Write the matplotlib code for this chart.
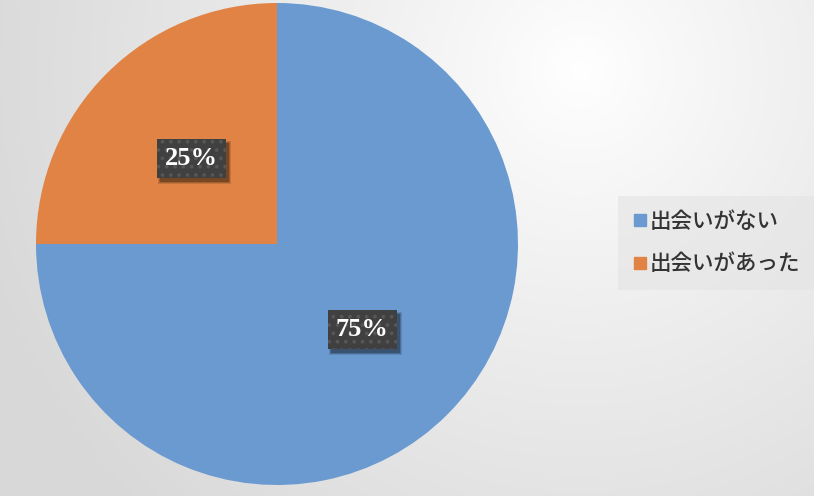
import numpy as np
import matplotlib
matplotlib.use("Agg")
import matplotlib.pyplot as plt
from matplotlib.lines import Line2D
from matplotlib.patches import Rectangle

labels = ["出会いがない", "出会いがあった"]
values = [75, 25]
colors = ["#6A9AD0", "#E08344"]

W, H = 814, 496
fig = plt.figure(figsize=(W / 100, H / 100), dpi=100)
plt.rcParams["hatch.linewidth"] = 1.5

# background radial gradient
bg = fig.add_axes([0, 0, 1, 1], zorder=-10)
yy, xx = np.mgrid[0:H, 0:W]
cx, cy = 580, 70
d = np.sqrt((xx - cx) ** 2 + (yy - cy) ** 2)
d = np.clip(d / 620.0, 0, 1)
v = 1.0 - 0.15 * d ** 0.9
img = np.dstack([v, v, v])
bg.imshow(img, extent=[0, 1, 0, 1], aspect="auto", origin="upper")
bg.axis("off")

ax = fig.add_axes([36 / W, (H - 485) / H, 482 / W, 482 / H])
wedges, texts, autotexts = ax.pie(
    values, colors=colors, startangle=90, counterclock=False,
    autopct=lambda p: f"{p:.0f}%", pctdistance=0.5, radius=1.0,
    wedgeprops=dict(linewidth=0),
    textprops=dict(color="white", fontsize=19, fontweight="bold",
                   family="Liberation Serif"),
)
ax.set_xlim(-1, 1)
ax.set_ylim(-1, 1)
ax.set_aspect("equal")
ax.axis("off")

for t in autotexts:
    t.set_bbox(dict(boxstyle="square,pad=0.3", fc="#404040", ec="#565656",
                    lw=0, hatch=".."))
    t.set_zorder(10)

fig.canvas.draw()
inv = fig.transFigure.inverted()
for t in autotexts:
    bb = t.get_bbox_patch().get_window_extent()
    (x0, y0), (x1, y1) = inv.transform([[bb.x0 + 3, bb.y0 - 4], [bb.x1 + 3, bb.y1 - 4]])
    for k, a in enumerate([0.12, 0.18, 0.25]):
        g = (2 - k) * 1.0 / W
        gy = (2 - k) * 1.0 / H
        ax.add_patch(Rectangle((x0 - g, y0 - gy), (x1 - x0) + 2 * g, (y1 - y0) + 2 * gy,
                               transform=fig.transFigure, fc="black", ec="none",
                               alpha=a, zorder=4, clip_on=False))

handles = [Line2D([], [], marker="s", ls="none", markersize=8.5,
                  markerfacecolor=c, markeredgecolor=c) for c in colors]
leg = fig.legend(handles, labels, loc="center left",
                 bbox_to_anchor=(618 / W, 1 - 243 / H),
                 frameon=True, fancybox=False, handlelength=0.6,
                 handletextpad=0.15, labelspacing=0.95, borderpad=0.7,
                 borderaxespad=0,
                 prop=dict(family="Noto Sans CJK JP", size=15.5, weight="medium"))
leg.get_frame().set_facecolor("#e4e4e4")
leg.get_frame().set_edgecolor("none")
leg.get_frame().set_alpha(0.6)
for t in leg.get_texts():
    t.set_color("#333333")

fig.savefig("out.png", dpi=100)
